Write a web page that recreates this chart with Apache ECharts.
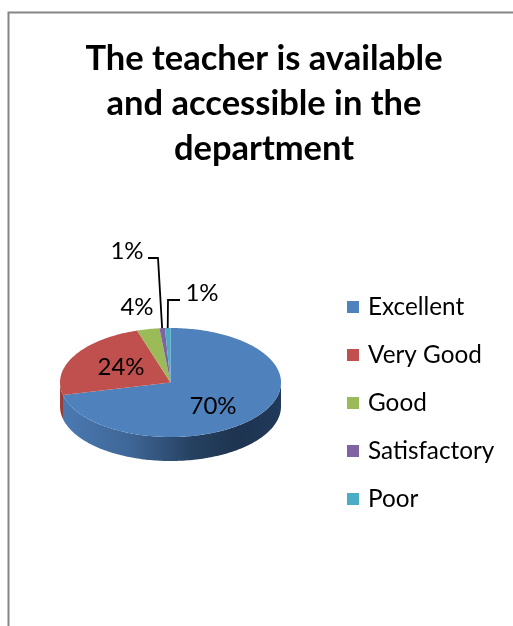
<!DOCTYPE html>
<html>
<head>
<meta charset="utf-8">
<style>html,body{margin:0;padding:0;background:#fff}#c{width:513px;height:626px}</style>
<script src="https://cdn.jsdelivr.net/npm/echarts@6/dist/echarts.min.js"></script>
</head>
<body>
<div id="c"></div>
<script>
const categories = ['Excellent', 'Very Good', 'Good', 'Satisfactory', 'Poor'];
const values = [70, 24, 4, 1, 1];
const colors = ['#4F81BD', '#C0504D', '#9BBB59', '#8064A2', '#4BACC6'];
const titleText = 'The teacher is available\nand accessible in the\ndepartment';

const FONT = 'Lato, "Open Sans", sans-serif';
const geo = { cx: 170.5, cy: 382.5, rx: 110.5, ry: 54.5, depth: 24 };
const wallStops = [
  [[0, '#4a79b2'], [0.3, '#3f6797'], [0.6, '#25405f'], [0.8, '#1e3450'], [1, '#21395a']],
  [[0, '#a8423f'], [1, '#8e3a38']],
  [[0, '#7f9a49'], [1, '#7f9a49']],
  [[0, '#6a5387'], [1, '#6a5387']],
  [[0, '#3e8ea4'], [1, '#3e8ea4']]
];
const labelLayout = [
  { x: 213, y: 406.5 },
  { x: 121, y: 367 },
  { x: 137, y: 307.5 },
  { x: 127, y: 251, elbow: [[158, 258], [148, 258]] },
  { x: 202, y: 293.5, elbow: [[168, 300], [180, 300]] }
];

const total = values.reduce((a, b) => a + b, 0);
// value share -> clockwise angle from the top, foreshortened at the back like a tilted pie
const toAngle = v => {
  const a = v / total * Math.PI * 2;
  return a - 0.111 * Math.sin(a) - 0.0426 * Math.sin(2 * a);
};
const pt = (a, dy) => [geo.cx + geo.rx * Math.sin(a), geo.cy - geo.ry * Math.cos(a) + (dy || 0)];
const arc = (a0, a1, dy) => {
  const n = Math.max(2, Math.ceil((a1 - a0) / 0.02));
  const out = [];
  for (let i = 0; i <= n; i++) out.push(pt(a0 + (a1 - a0) * i / n, dy));
  return out;
};

function renderSlice(params) {
  const i = params.seriesIndex;
  const before = values.slice(0, i).reduce((a, b) => a + b, 0);
  const a0 = toAngle(before), a1 = toAngle(before + values[i]);
  const children = [];
  const w0 = Math.max(a0, Math.PI / 2), w1 = Math.min(a1, Math.PI * 1.5);
  if (w1 > w0) {
    children.push({
      type: 'polygon',
      shape: { points: arc(w0, w1, 0).concat(arc(w0, w1, geo.depth).reverse()) },
      style: {
        fill: {
          type: 'linear', x: 0, y: 0, x2: 1, y2: 0,
          colorStops: wallStops[i].map(s => ({ offset: s[0], color: s[1] }))
        }
      }
    });
  }
  children.push({
    type: 'polygon',
    shape: { points: [[geo.cx, geo.cy]].concat(arc(a0, a1, 0)) },
    style: { fill: colors[i] }
  });
  const lay = labelLayout[i];
  if (lay.elbow) {
    const anchor = pt((a0 + a1) / 2, 0);
    children.push({
      type: 'polyline',
      shape: { points: [anchor].concat(lay.elbow) },
      style: { stroke: '#000', lineWidth: 1.8, fill: null }
    });
  }
  children.push({
    type: 'text',
    style: {
      text: values[i] + '%', x: lay.x, y: lay.y,
      textAlign: 'center', textVerticalAlign: 'middle',
      font: '24px ' + FONT, fill: '#000'
    }
  });
  return { type: 'group', children };
}

const chart = echarts.init(document.getElementById('c'), null, { renderer: 'canvas' });
chart.setOption({
  animation: false,
  backgroundColor: '#fff',
  title: {
    text: titleText,
    left: 259, top: 31, textAlign: 'center',
    textStyle: { fontFamily: FONT, fontSize: 34.5, fontWeight: 'bold', color: '#000', lineHeight: 45 }
  },
  legend: {
    data: categories,
    orient: 'vertical', left: 342, top: 290,
    icon: 'rect', itemWidth: 12, itemHeight: 12, itemGap: 24,
    selectedMode: false,
    textStyle: { fontFamily: FONT, fontSize: 24.3, color: '#000', padding: [0, 0, 0, 4], height: 24, lineHeight: 24 }
  },
  graphic: [{
    type: 'polyline', silent: true,
    shape: { points: [[8.5, 626], [8.5, 12.5], [513, 12.5]] },
    style: { stroke: '#868686', lineWidth: 2, fill: null }
  }],
  series: categories.map((name, i) => ({
    type: 'custom', name, coordinateSystem: 'none',
    itemStyle: { color: colors[i] },
    data: [[values[i]]],
    renderItem: renderSlice,
    z: 2 + i
  }))
});
</script>
</body>
</html>
